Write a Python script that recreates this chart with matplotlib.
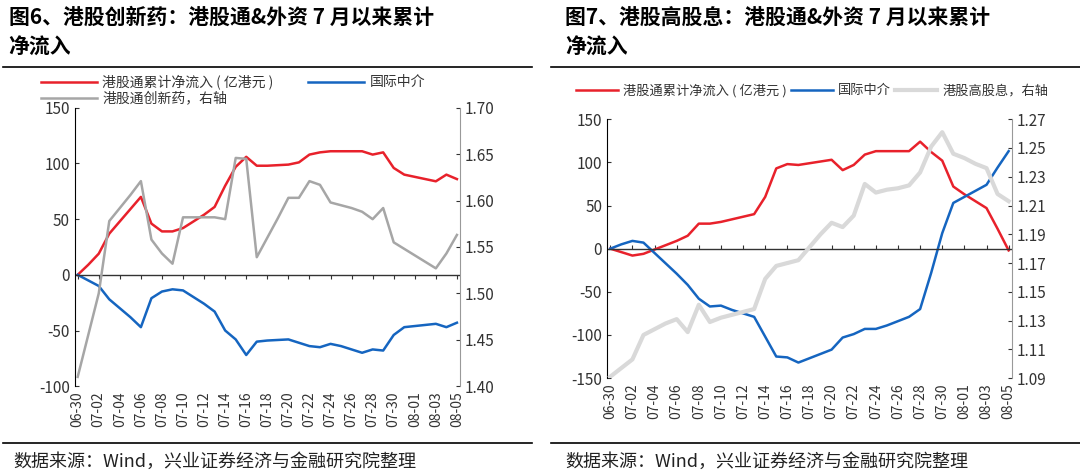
import matplotlib
matplotlib.use("Agg")
import matplotlib.pyplot as plt

plt.rcParams['font.family'] = ['Noto Sans CJK SC', 'DejaVu Sans']
plt.rcParams['axes.unicode_minus'] = False

# dates 06-30 .. 08-05, every day shown
dates = ['06-30'] + ['07-%02d' % d for d in range(1, 32)] + ['08-%02d' % d for d in range(1, 6)]

# left: innovative drugs
drug_sb = [0, 9, 19, 37, 48, 59, 70, 46, 39, 39, 42, 48, 54, 61, 80, 97, 106, 98, 98, 98.5,
           99, 101, 108, 110, 111, 111, 111, 111, 108, 110, 96, 90, 88, 86, 84, 90, 86]
drug_intl = [0, -5, -10, -22, -30, -38, -47, -21, -15, -13, -14, -20, -26, -33, -50, -58, -72, -60, -59, -58.5,
             -58, -61, -64, -65, -62, -64, -67, -70, -67, -68, -54, -47, -46, -45, -44, -47, -43]
drug_idx = [1.41, 1.455, 1.50, 1.578, 1.592, 1.606, 1.621, 1.558, 1.543, 1.532, 1.582, 1.582, 1.582, 1.582,
            1.580, 1.646, 1.645, 1.539, 1.560, 1.581, 1.603, 1.603, 1.621, 1.617, 1.598, 1.595, 1.592, 1.588,
            1.580, 1.592, 1.555, 1.548, 1.541, 1.534, 1.527, 1.543, 1.563]

# right: high dividend
div_sb = [0, -4, -8, -6, -1, 4, 9, 15, 29, 29, 31, 34, 37, 40, 60, 93, 98, 97, 99, 101, 103, 91, 97, 109,
          113, 113, 113, 113, 124, 112, 102, 72, 63, 55, 47, 23, -2]
div_intl = [0, 5, 9, 7, -5, -17, -29, -42, -58, -67, -66, -71, -75, -79, -102, -125, -126, -132, -127, -122,
            -117, -103, -99, -93, -93, -89, -84, -79, -70, -28, 18, 53, 60, 67, 74, 94, 113]
div_idx = [1.091, 1.097, 1.103, 1.120, 1.124, 1.128, 1.131, 1.122, 1.141, 1.129, 1.132, 1.134, 1.136, 1.138,
           1.159, 1.168, 1.170, 1.172, 1.181, 1.190, 1.198, 1.195, 1.203, 1.225, 1.219, 1.221, 1.222, 1.224,
           1.233, 1.251, 1.261, 1.246, 1.243, 1.239, 1.236, 1.218, 1.213]

RED = '#e8212b'
BLUE = '#1565c0'
SB_LABEL = '港股通累计净流入 ( 亿港元 )'

fig = plt.figure(figsize=(10.8, 4.75), dpi=100)


def panel(rect, sb, intl, idx, ylim, yticks, y2lim, y2ticks, gray, gray_lw, gname):
    ax = fig.add_axes(rect)
    x = list(range(len(dates)))
    ax.plot(x, sb, color=RED, lw=1.8, label=SB_LABEL)
    ax.plot(x, intl, color=BLUE, lw=1.8, label='国际中介')
    ax.set_ylim(*ylim)
    ax.set_yticks(yticks)
    ax.set_xlim(-0.3, len(dates) - 0.7)
    ax.set_xticks(x[::2])
    ax.set_xticklabels(dates[::2], rotation=90, fontsize=10, color='#333333')
    ax.tick_params(axis='x', length=0, pad=4)
    ax.tick_params(axis='y', labelsize=11, colors='#333333', direction='in', length=3)
    for s in ['top', 'right', 'bottom']:
        ax.spines[s].set_visible(False)
    ax.axhline(0, color='#333333', lw=1)
    zpos = (0 - ylim[0]) / (ylim[1] - ylim[0])
    sec = ax.secondary_xaxis(zpos)
    sec.set_xticks(x[::2])
    sec.tick_params(length=3, direction='out', labelbottom=False, labeltop=False, colors='#333333')
    sec.spines['bottom'].set_visible(False)
    sec.spines['top'].set_visible(False)
    ax2 = ax.twinx()
    ax2.plot(x, idx, color=gray, lw=gray_lw, label=gname)
    ax2.set_ylim(*y2lim)
    ax2.set_yticks(y2ticks)
    ax2.set_yticklabels(['%.2f' % v for v in y2ticks])
    ax2.tick_params(axis='y', labelsize=11, colors='#333333', direction='in', length=3)
    for s in ['top', 'left', 'bottom']:
        ax2.spines[s].set_visible(False)
    ax2.spines['right'].set_color('#999999')
    h1, l1 = ax.get_legend_handles_labels()
    h2, l2 = ax2.get_legend_handles_labels()
    return h1 + h2, l1 + l2


h, l = panel([0.069, 0.187, 0.357, 0.586], drug_sb, drug_intl, drug_idx,
             (-100, 150), [-100, -50, 0, 50, 100, 150],
             (1.40, 1.70), [1.40, 1.45, 1.50, 1.55, 1.60, 1.65, 1.70], '#a6a6a6', 1.8, '港股通创新药，右轴')
order = [0, 2, 1]
fig.legend([h[i] for i in order], [l[i] for i in order], loc='upper left', bbox_to_anchor=(0.033, 0.855),
           ncol=2, frameon=False, fontsize=10, handlelength=4, columnspacing=2.5, labelspacing=0.15,
           borderaxespad=0, handletextpad=0.4, labelcolor='#333333')

h, l = panel([0.562, 0.204, 0.375, 0.545], div_sb, div_intl, div_idx,
             (-150, 150), [-150, -100, -50, 0, 50, 100, 150],
             (1.09, 1.27), [1.09, 1.11, 1.13, 1.15, 1.17, 1.19, 1.21, 1.23, 1.25, 1.27],
             '#d9d9d9', 3, '港股高股息，右轴')
fig.legend(h, l, loc='upper left', bbox_to_anchor=(0.528, 0.835), ncol=3, frameon=False, fontsize=9.5,
           handlelength=3.2, columnspacing=0.3, borderaxespad=0, handletextpad=0.4, labelcolor='#333333')

# titles, rules and sources
fig.text(0.008, 0.985, '图6、港股创新药：港股通&外资 7 月以来累计\n净流入', fontsize=15, fontweight='bold',
         va='top', ha='left', linespacing=1.5)
fig.text(0.523, 0.985, '图7、港股高股息：港股通&外资 7 月以来累计\n净流入', fontsize=15, fontweight='bold',
         va='top', ha='left', linespacing=1.5)
for x0, x1 in [(0.003, 0.493), (0.51, 1.0)]:
    fig.add_artist(plt.Line2D([x0, x1], [0.858, 0.858], color='black', lw=1.2))
    fig.add_artist(plt.Line2D([x0, x1], [0.067, 0.067], color='black', lw=1.2))
fig.text(0.012, 0.028, '数据来源：Wind，兴业证券经济与金融研究院整理', fontsize=13, va='center', color='#222222')
fig.text(0.523, 0.028, '数据来源：Wind，兴业证券经济与金融研究院整理', fontsize=13, va='center', color='#222222')

fig.savefig('out.png', dpi=100)
